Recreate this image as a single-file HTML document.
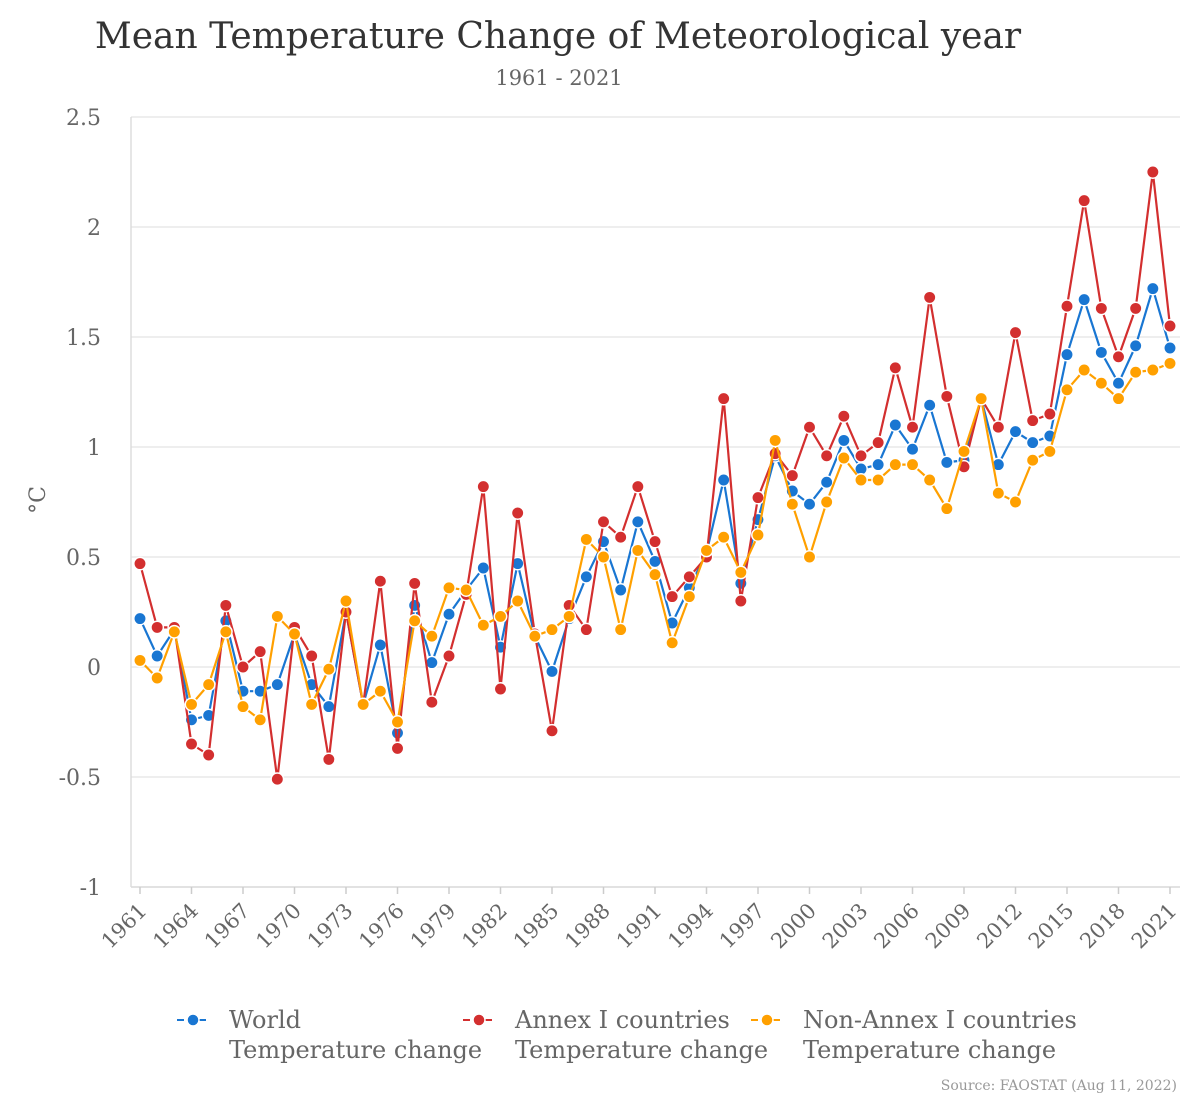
<!DOCTYPE html>
<html><head><meta charset="utf-8">
<style>
body{margin:0;background:#fff;}
svg{display:block;font-family:"DejaVu Serif","Liberation Serif",serif;}
</style></head>
<body>
<svg id="chart" width="1200" height="1100">
  <text x="558" y="48" text-anchor="middle" font-size="36" fill="#333">Mean Temperature Change of Meteorological year</text>
  <text x="559" y="85" text-anchor="middle" font-size="21" fill="#666">1961 - 2021</text>
  <text x="45" y="500" text-anchor="middle" font-size="22" fill="#666" transform="rotate(-90 45 500)">°C</text>
  <g id="grid"></g>
  <g id="axes"></g>
  <g id="series"></g>
  <g id="legend"></g>
  <text x="1177" y="1090" text-anchor="end" font-size="14" fill="#999">Source: FAOSTAT (Aug 11, 2022)</text>
</svg>
<script>
const years = [];
for (let y = 1961; y <= 2021; y++) years.push(y);
const yTicks = [-1, -0.5, 0, 0.5, 1, 1.5, 2, 2.5];
const yTickLabels = ["-1", "-0.5", "0", "0.5", "1", "1.5", "2", "2.5"];
const xTickYears = [1961,1964,1967,1970,1973,1976,1979,1982,1985,1988,1991,1994,1997,2000,2003,2006,2009,2012,2015,2018,2021];
const world = [0.22,0.05,0.17,-0.24,-0.22,0.21,-0.11,-0.11,-0.08,0.15,-0.08,-0.18,0.25,-0.17,0.10,-0.30,0.28,0.02,0.24,0.35,0.45,0.09,0.47,0.14,-0.02,0.22,0.41,0.57,0.35,0.66,0.48,0.20,0.36,0.52,0.85,0.38,0.67,0.96,0.80,0.74,0.84,1.03,0.90,0.92,1.10,0.99,1.19,0.93,0.94,1.22,0.92,1.07,1.02,1.05,1.42,1.67,1.43,1.29,1.46,1.72,1.45];
const annex = [0.47,0.18,0.18,-0.35,-0.40,0.28,0.00,0.07,-0.51,0.18,0.05,-0.42,0.25,-0.17,0.39,-0.37,0.38,-0.16,0.05,0.33,0.82,-0.10,0.70,0.15,-0.29,0.28,0.17,0.66,0.59,0.82,0.57,0.32,0.41,0.50,1.22,0.30,0.77,0.97,0.87,1.09,0.96,1.14,0.96,1.02,1.36,1.09,1.68,1.23,0.91,1.22,1.09,1.52,1.12,1.15,1.64,2.12,1.63,1.41,1.63,2.25,1.55];
const nonAnnex = [0.03,-0.05,0.16,-0.17,-0.08,0.16,-0.18,-0.24,0.23,0.15,-0.17,-0.01,0.30,-0.17,-0.11,-0.25,0.21,0.14,0.36,0.35,0.19,0.23,0.30,0.14,0.17,0.23,0.58,0.50,0.17,0.53,0.42,0.11,0.32,0.53,0.59,0.43,0.60,1.03,0.74,0.50,0.75,0.95,0.85,0.85,0.92,0.92,0.85,0.72,0.98,1.22,0.79,0.75,0.94,0.98,1.26,1.35,1.29,1.22,1.34,1.35,1.38];
const seriesNames = ["World", "Annex I countries", "Non-Annex I countries"];
const seriesColors = ["#1976d2", "#d32f2f", "#ffa000"];

const NS = "http://www.w3.org/2000/svg";
const L = 131, R = 1180, T = 117, B = 887;
const yMin = -1, yMax = 2.5;
function yScale(v){ return B - (v - yMin) / (yMax - yMin) * (B - T); }
function xScale(yr){ return 140 + (yr - 1961) * (1170 - 140) / 60; }
function mk(tag, attrs, parent){ const e = document.createElementNS(NS, tag); for (const k in attrs) e.setAttribute(k, attrs[k]); parent.appendChild(e); return e; }

const grid = document.getElementById('grid');
yTicks.forEach((v, i) => {
  const g = mk('line', {x1: L, x2: R, y1: yScale(v), y2: yScale(v), stroke: '#e8e8e8', 'stroke-width': 1.5}, grid);
  
  
  const t = mk('text', {x: 101, y: yScale(v) + 8, 'text-anchor': 'end', 'font-size': 22, fill: '#666'}, grid);
  t.textContent = yTickLabels[i];
  
  
});
const axes = document.getElementById('axes');
const yl = mk('line', {x1: L, x2: L, y1: T, y2: B, stroke: '#ddd', 'stroke-width': 1.5}, axes);


const xl = mk('line', {x1: L, x2: R, y1: B, y2: B, stroke: '#ddd', 'stroke-width': 1.5}, axes);


xTickYears.forEach(yr => {
  const x = xScale(yr);
  const tk = mk('line', {x1: x, x2: x, y1: B, y2: B + 7, stroke: '#ccc', 'stroke-width': 1.5}, axes);
  
  
  const t = mk('text', {x: x + 8, y: B + 25, 'text-anchor': 'end', 'font-size': 21, fill: '#666', transform: `rotate(-45 ${x + 8} ${B + 25})`}, axes);
  t.textContent = yr;
  
  
});

const sg = document.getElementById('series');
[world, annex, nonAnnex].forEach((data, si) => {
  const g = mk('g', {}, sg);
  
  
  const pts = data.map((v, i) => xScale(years[i]) + ',' + yScale(v)).join(' ');
  const pl = mk('polyline', {points: pts, fill: 'none', stroke: seriesColors[si], 'stroke-width': 2.2}, g);
  
  
  data.forEach((v, i) => {
    const c = mk('circle', {cx: xScale(years[i]), cy: yScale(v), r: 6.2, fill: seriesColors[si], stroke: '#fff', 'stroke-width': 1.5}, g);
    
    
  });
});

const lg = document.getElementById('legend');
const lx = [177, 463, 751];
seriesNames.forEach((n, i) => {
  const g = mk('g', {}, lg);
  
  
  mk('line', {x1: lx[i], x2: lx[i] + 32, y1: 1020, y2: 1020, stroke: seriesColors[i], 'stroke-width': 2, 'stroke-dasharray': '7 4'}, g);
  mk('circle', {cx: lx[i] + 16, cy: 1020, r: 6, fill: seriesColors[i], stroke: '#fff', 'stroke-width': 1.5}, g);
  const t1 = mk('text', {x: lx[i] + 52, y: 1028, 'font-size': 24, fill: '#666'}, g);
  t1.textContent = n;
  const t2 = mk('text', {x: lx[i] + 52, y: 1058, 'font-size': 24, fill: '#666'}, g);
  t2.textContent = 'Temperature change';
});
</script>
</body></html>
